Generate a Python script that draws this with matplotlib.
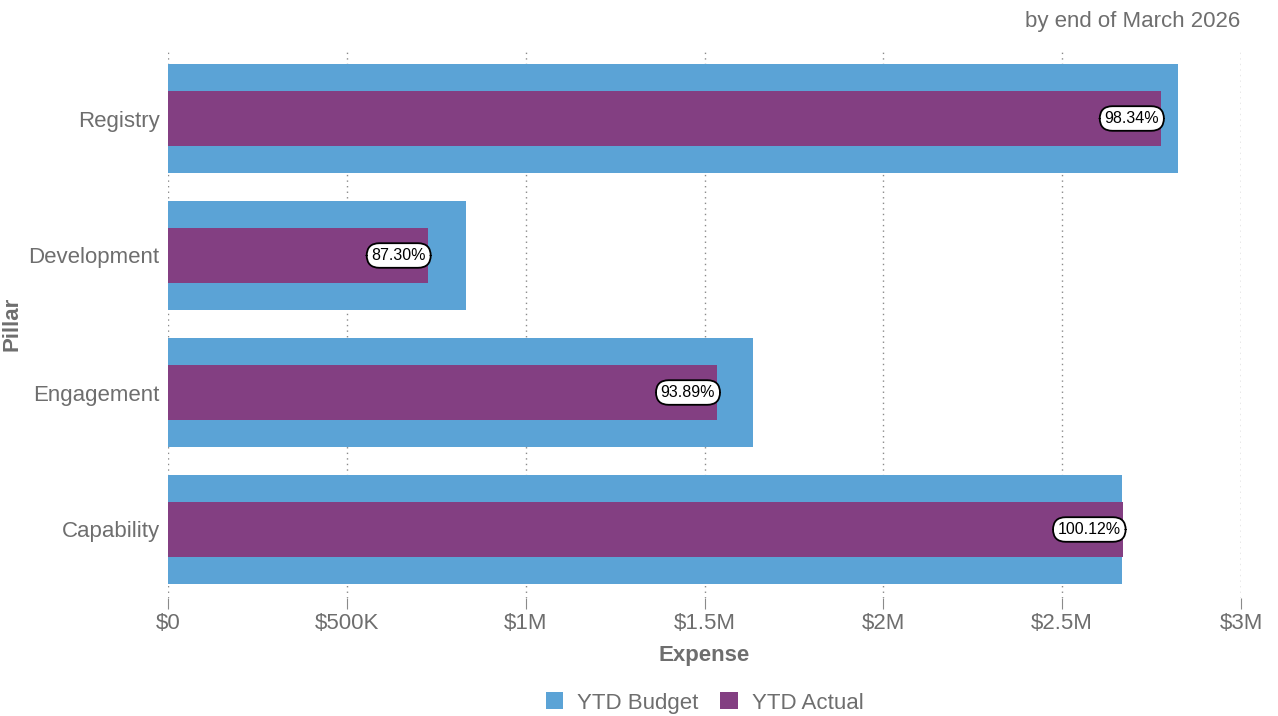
import matplotlib.pyplot as plt
from matplotlib.ticker import FuncFormatter

plt.rcParams['font.family'] = ['Liberation Sans', 'DejaVu Sans']

pillars = ['Capability', 'Engagement', 'Development', 'Registry']
ytd_budget = [2667000, 1636000, 833000, 2824000]
ytd_actual = [2670200, 1536040, 727210, 2777100]

blue = '#5ba3d6'
purple = '#833f82'
grey = '#6e6e6e'

fig = plt.figure(figsize=(12.78, 7.16), dpi=100)
ax = fig.add_axes([168 / 1278, 1 - 598 / 716, (1241 - 168) / 1278, (598 - 50) / 716])

pos = range(len(pillars))
ax.barh(pos, ytd_budget, height=0.8, color=blue, label='YTD Budget', zorder=2)
ax.barh(pos, ytd_actual, height=0.4, color=purple, label='YTD Actual', zorder=3)

# percentage of budget spent, pinned to the end of each actual bar
for y, b, a in zip(pos, ytd_budget, ytd_actual):
    ax.text(a - 6000, y, f'{a / b * 100:.2f}%', ha='right', va='center',
            fontsize=11.5, color='black', zorder=4,
            bbox=dict(boxstyle='round,pad=0.3,rounding_size=0.8',
                      fc='white', ec='black', lw=1.3))

ax.set_xlim(0, 3000000)
ax.set_ylim(-0.5, 3.5)
ax.set_xticks([0, 500000, 1000000, 1500000, 2000000, 2500000, 3000000])


def money(v, _):
    if v == 0:
        return '$0'
    if v >= 1000000:
        return f'${v / 1e6:g}M'
    return f'${v / 1e3:g}K'


ax.xaxis.set_major_formatter(FuncFormatter(money))
ax.set_yticks(list(pos))
ax.set_yticklabels(pillars)

ax.grid(axis='x', color='#8a8a8a', linestyle=(0, (1, 3)), linewidth=1, zorder=0)
for s in ax.spines.values():
    s.set_visible(False)
ax.tick_params(axis='x', length=8, color='#8a8a8a', labelsize=16, labelcolor=grey, pad=3)
ax.tick_params(axis='y', length=0, labelsize=16, labelcolor=grey, pad=6)
for t in ax.xaxis.get_ticklines():
    t.set_linestyle((0, (1, 2)))

ax.set_xlabel('Expense', fontsize=16, fontweight='bold', color=grey, labelpad=8)
ax.set_ylabel('Pillar', fontsize=16, fontweight='bold', color=grey, labelpad=4)

fig.text(1240 / 1278, 1 - 22 / 716, 'by end of March 2026', ha='right', va='center',
         fontsize=16, color=grey)

# legend sits under the plot area, centred on it rather than on the figure
ax.legend(loc='center', bbox_to_anchor=(0.5, 1 - 703 / 716), bbox_transform=fig.transFigure,
          ncol=2, frameon=False, fontsize=16, labelcolor=grey,
          handlelength=0.8, handleheight=0.8, handletextpad=0.6, columnspacing=1.0)
leg = ax.get_legend()
leg.set_bbox_to_anchor(((168 + 1241) / 2 / 1278, 1 - 703 / 716), transform=fig.transFigure)

fig.savefig('out.png', dpi=100)
